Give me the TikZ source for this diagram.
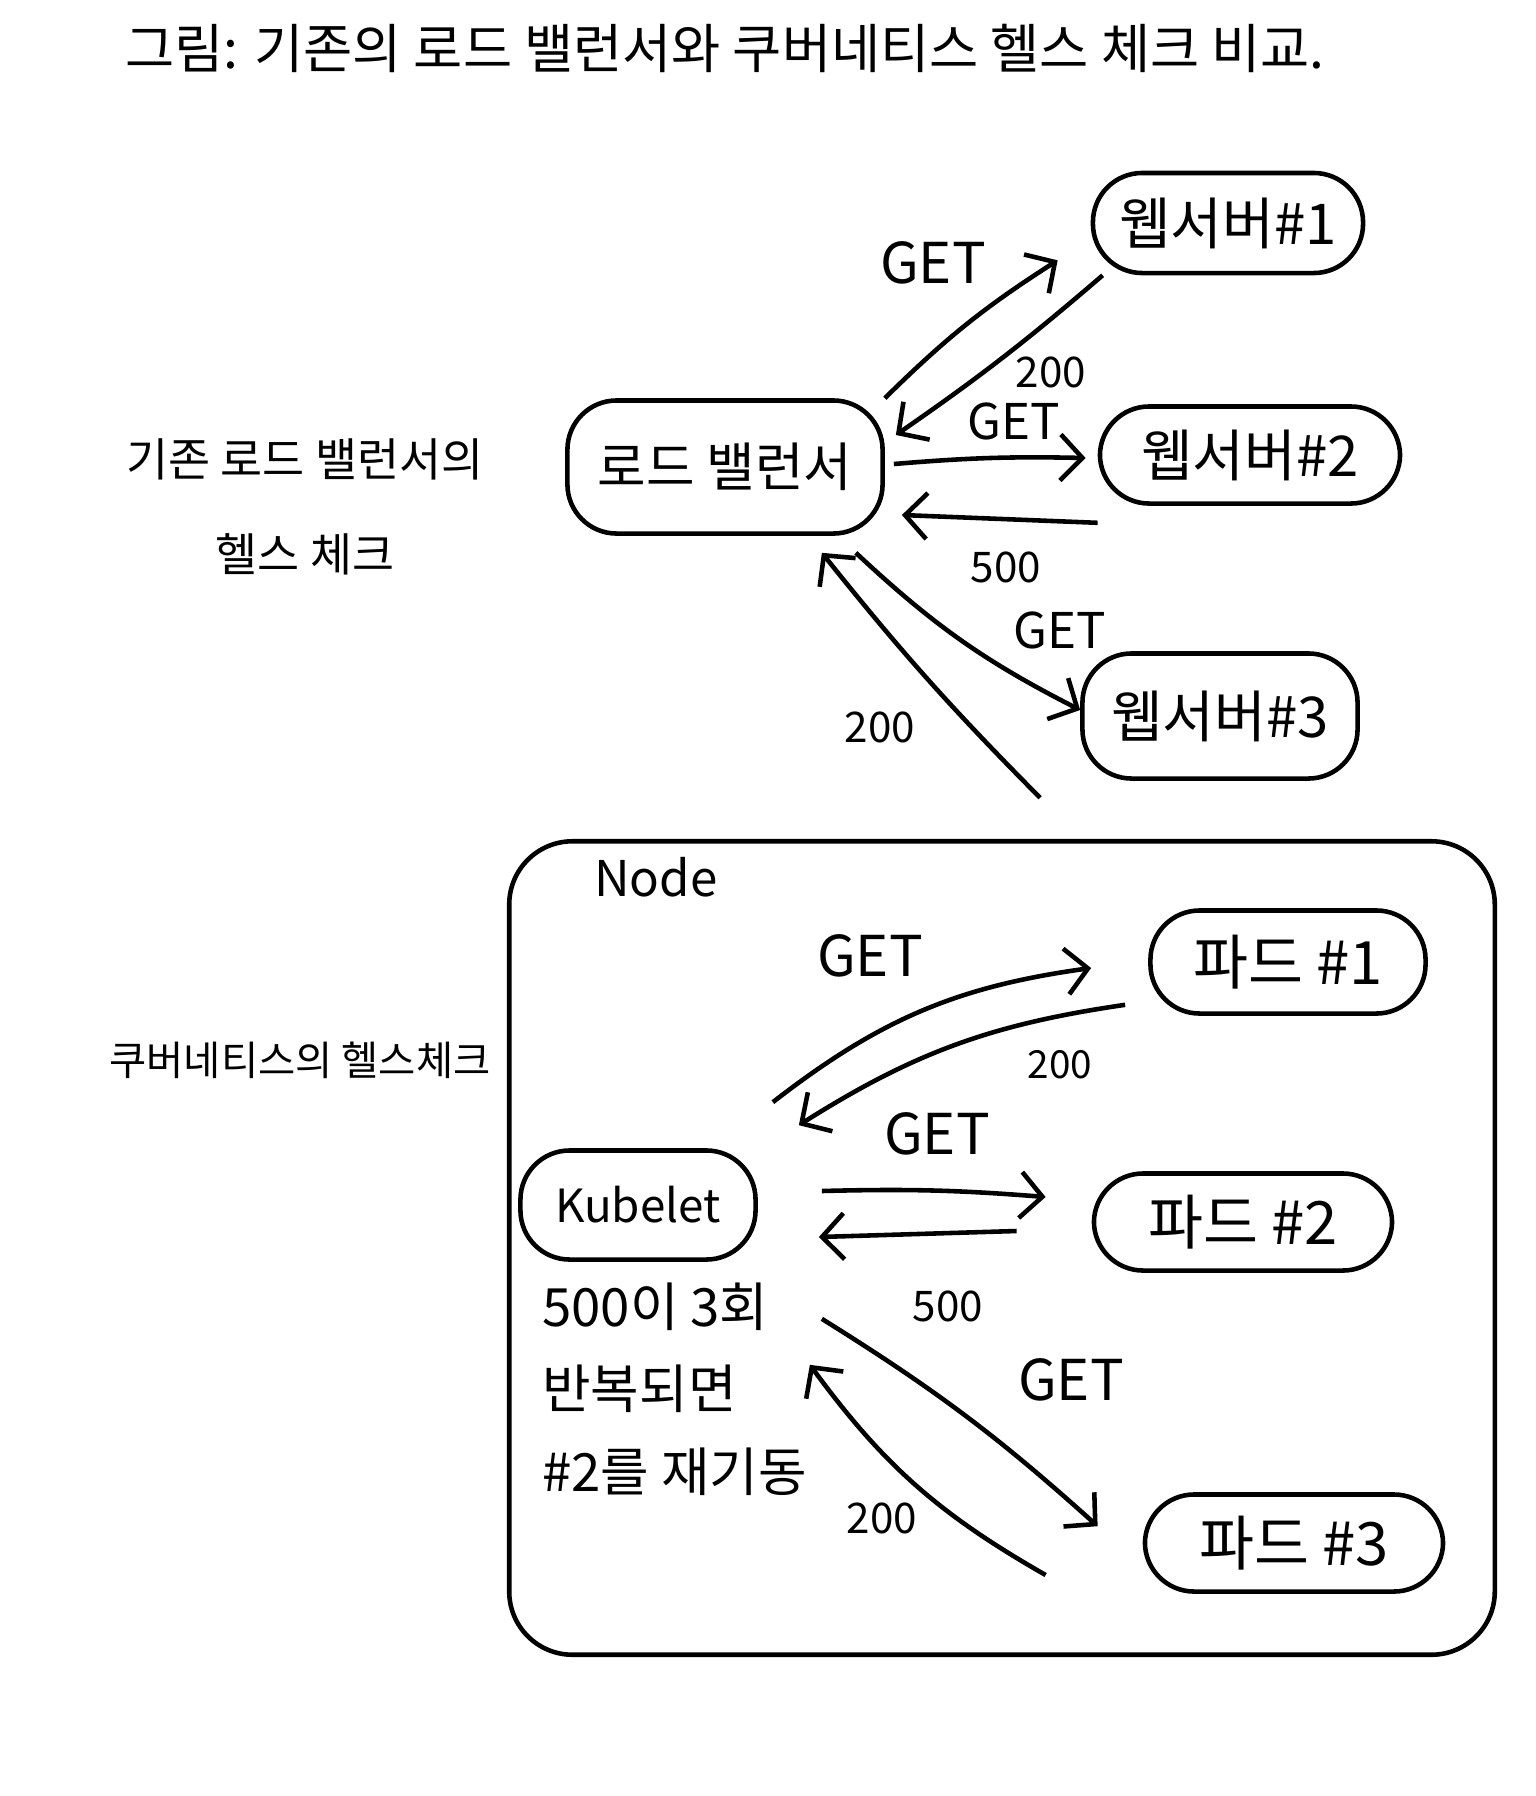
\documentclass[tikz,border=0pt]{standalone}
\usepackage{fontspec}
\setmainfont{Noto Sans CJK KR}
\usetikzlibrary{calc,arrows.meta}

\tikzset{
	box/.style={draw, line width=1.3pt, rounded corners=14pt, inner sep=0pt},
	msg/.style={line width=1.3pt, -{Straight Barb[length=2.2mm,width=4.6mm]}},
	biglbl/.style={font=\fontsize{16}{18}\selectfont},
	midlbl/.style={font=\fontsize{14}{16}\selectfont},
	smalllbl/.style={font=\fontsize{12}{14}\selectfont},
}

\begin{document}
\begin{tikzpicture}[x=0.01cm, y=-0.01cm]
			%%%%% START %%%%%
			\path[fill=white, use as bounding box] (0,0) rectangle (1536,1796);
			
			\node[font=\fontsize{15.2}{17}\selectfont] (title) at (725,48) {그림: 기존의 로드 밸런서와 쿠버네티스 헬스 체크 비교.};
			
			% 기존 로드 밸런서
			\node[font=\fontsize{13}{27}\selectfont, align=center] (lbnote) at (305,507) {기존 로드 밸런서의\\헬스 체크};
			\node[box, minimum width=3.15cm, minimum height=1.33cm, font=\fontsize{15}{17}\selectfont] (lb) at (725,467) {로드 밸런서};
			\node[box, minimum width=2.7cm, minimum height=1cm, font=\fontsize{16}{18}\selectfont] (ws1) at (1228,223) {웹서버\#1};
			\node[box, minimum width=3cm, minimum height=0.97cm, font=\fontsize{16}{18}\selectfont] (ws2) at (1250,455) {웹서버\#2};
			\node[box, minimum width=2.75cm, minimum height=1.25cm, font=\fontsize{16}{18}\selectfont] (ws3) at (1220,716) {웹서버\#3};
			
			\draw[msg] (lb.north east) to[bend left=6] ($(ws1.south west)+(-33,-15)$);
			\draw[msg] ($(ws1.south west)+(12,0)$) to[bend left=3] ($(lb.east)+(11,-32)$);
			\draw[msg] ($(lb.east)+(9,-3)$) to[bend left=3] ($(ws2.west)+(-12,3)$);
			\draw[msg] ($(ws2.south west)+(0,17)$) to ($(lb.east)+(17,48)$);
			\draw[msg] ($(lb.south east)+(-29,17)$) to[bend right=8] ($(ws3.west)+(0,-6)$);
			\draw[msg] ($(ws3.south west)+(-40,17)$) to[bend left=3] ($(lb.south east)+(-63,17)$);
			
			\node[biglbl] (get1) at (933,263) {GET};
			\node[smalllbl] (ok1) at (1051,372) {200};
			\node[midlbl] (get2) at (1014,421) {GET};
			\node[smalllbl] (err2) at (1006,567) {500};
			\node[midlbl] (get3) at (1060,630) {GET};
			\node[smalllbl] (ok3) at (880,727) {200};
			
			% 쿠버네티스
			\node[font=\fontsize{11.5}{14}\selectfont] (k8snote) at (300,1060) {쿠버네티스의 헬스체크};
			\node[box, rounded corners=18pt, minimum width=9.85cm, minimum height=8.13cm] (frame) at (1002,1248) {};
			\node[font=\fontsize{14}{16}\selectfont, anchor=north west] (nodelbl) at ($(frame.north west)+(75,6)$) {Node};
			
			\node[box, minimum width=2.35cm, minimum height=1.09cm, font=\fontsize{13}{15}\selectfont] (kubelet) at (638,1205) {Kubelet};
			\node[box, minimum width=2.75cm, minimum height=1.03cm, font=\fontsize{17}{19}\selectfont] (pod1) at (1288,962) {파드 \#1};
			\node[box, minimum width=2.98cm, minimum height=0.97cm, font=\fontsize{17}{19}\selectfont] (pod2) at (1243,1222) {파드 \#2};
			\node[box, minimum width=2.98cm, minimum height=0.97cm, font=\fontsize{17}{19}\selectfont] (pod3) at (1294,1543) {파드 \#3};
			
			\node[font=\fontsize{15}{23.5}\selectfont, align=left, anchor=west] (restart) at (530,1389) {500이 3회\\반복되면\\\#2를 재기동};
			
			\draw[msg] ($(kubelet.north east)+(15,-46)$) to[bend left=15] ($(pod1.west)+(-57,6)$);
			\draw[msg] ($(pod1.south west)+(-23,-11)$) to[bend right=12] ($(kubelet.north east)+(41,-23)$);
			\draw[msg] ($(kubelet.east)+(64,-14)$) to[bend left=3] ($(pod2.west)+(-46,-25)$);
			\draw[msg] ($(pod2.west)+(-75,9)$) to ($(kubelet.east)+(61,32)$);
			\draw[msg] ($(kubelet.south east)+(64,57)$) to[bend left=5] ($(pod3.north west)+(-45,34)$);
			\draw[msg] ($(pod3.west)+(-97,32)$) to[bend left=12] ($(kubelet.south east)+(52,103)$);
			
			\node[biglbl] (pget1) at (870,956) {GET};
			\node[font=\fontsize{11}{13}\selectfont] (pok1) at (1060,1065) {200};
			\node[biglbl] (pget2) at (937,1134) {GET};
			\node[smalllbl] (perr2) at (948,1306) {500};
			\node[biglbl] (pget3) at (1071,1380) {GET};
			\node[smalllbl] (pok3) at (882,1518) {200};
			%%%%% END %%%%%
\end{tikzpicture}
\end{document}
